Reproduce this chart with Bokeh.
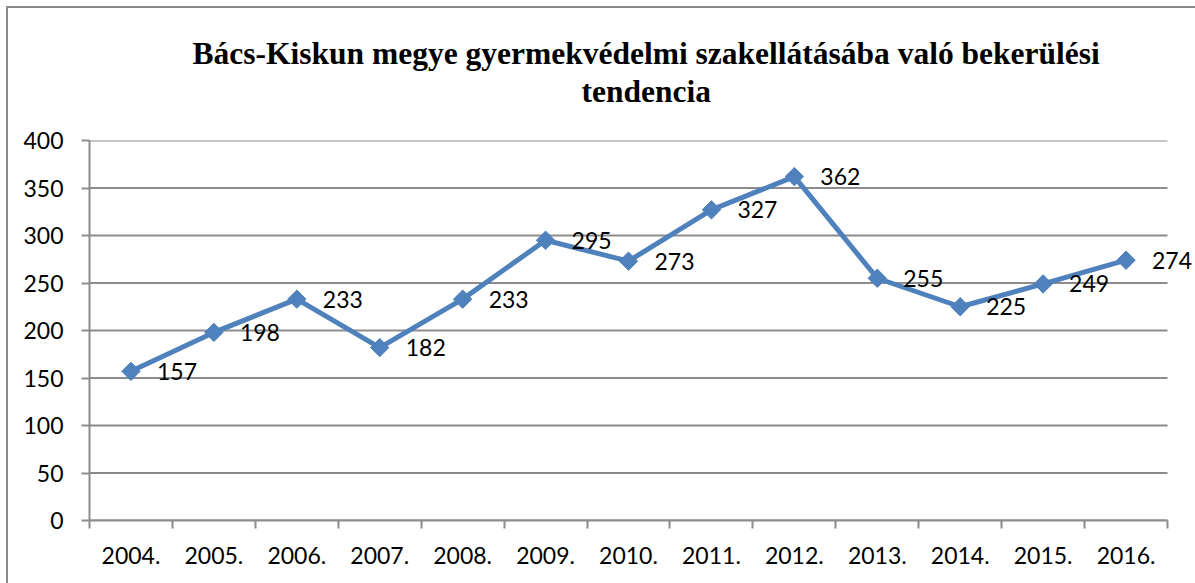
import math
from bokeh.plotting import figure
from bokeh.models import Range1d, FixedTicker, Title, ColumnDataSource, LabelSet
from bokeh.core.properties import value
from bokeh.embed import file_html
from bokeh.resources import INLINE

years = ["2004.", "2005.", "2006.", "2007.", "2008.", "2009.", "2010.",
         "2011.", "2012.", "2013.", "2014.", "2015.", "2016."]
counts = [157, 198, 233, 182, 233, 295, 273, 327, 362, 255, 225, 249, 274]
y_ticks = [0, 50, 100, 150, 200, 250, 300, 350, 400]
title_line1 = "Bács-Kiskun megye gyermekvédelmi szakellátásába való bekerülési"
title_line2 = "tendencia"

n = len(years)
xs = [i + 0.5 for i in range(n)]
labels = [str(v) for v in counts]
src = ColumnDataSource(dict(x=xs, y=counts, lab=labels))

LINE = "#4F81BD"
GRID = "#8c8c8c"
FONT = "Lato"

W, H = 1195, 583
LEFT, PLOT_RIGHT = 89, 1167
# frame extends to the right edge so that the last data label is not clipped
x_end = n * (W - LEFT) / (PLOT_RIGHT - LEFT)

p = figure(width=W, height=H, output_backend="svg", toolbar_location=None,
           x_range=Range1d(0, x_end), y_range=Range1d(0, 400),
           min_border_left=LEFT, min_border_right=0, min_border_top=140,
           min_border_bottom=63)
p.outline_line_color = None
p.background_fill_color = "white"
p.border_fill_color = None
p.styles = {
    "background": "linear-gradient(#8c8c8c, #8c8c8c) 6px 6px / 2px 100% no-repeat, "
                  "linear-gradient(#8c8c8c, #8c8c8c) 6px 6px / 100% 2px no-repeat, white"
}

# titles
t2 = Title(text=title_line2, align="left", text_font="Liberation Serif",
           text_font_size="31.5px", text_font_style="bold", text_color="black",
           offset=492, standoff=64)
t1 = Title(text=title_line1, align="left", text_font="Liberation Serif",
           text_font_size="31.5px", text_font_style="bold", text_color="black",
           offset=103, standoff=-62)
p.add_layout(t2, "above")
p.add_layout(t1, "above")

# axes
xa = p.xaxis[0]
xa.bounds = (0, n)
xa.ticker = FixedTicker(ticks=xs, minor_ticks=list(range(n + 1)))
xa.major_label_overrides = {x: y for x, y in zip(xs, years)}
xa.major_tick_out = 0
xa.major_tick_in = 0
xa.minor_tick_out = 8
xa.minor_tick_in = 0
xa.minor_tick_line_color = GRID
xa.minor_tick_line_width = 2
xa.axis_line_color = GRID
xa.axis_line_width = 2
xa.major_label_text_font = FONT
xa.major_label_text_font_size = "23px"
xa.major_label_text_color = "black"
xa.major_label_standoff = 18

ya = p.yaxis[0]
ya.ticker = FixedTicker(ticks=y_ticks)
ya.major_tick_out = 8
ya.major_tick_in = 0
ya.minor_tick_out = 0
ya.minor_tick_in = 0
ya.major_tick_line_color = GRID
ya.major_tick_line_width = 2
ya.axis_line_color = GRID
ya.axis_line_width = 2
ya.major_label_text_font = FONT
ya.major_label_text_font_size = "23px"
ya.major_label_text_color = "black"
ya.major_label_standoff = 18

# horizontal gridlines spanning the category area only
p.xgrid.grid_line_color = None
p.ygrid.grid_line_color = None
p.segment(x0=[0] * len(y_ticks), x1=[n] * len(y_ticks), y0=y_ticks, y1=y_ticks,
          line_color=GRID, line_width=2)

p.line("x", "y", source=src, line_color=LINE, line_width=5)
p.scatter("x", "y", source=src, marker="square", angle=math.pi / 4, size=13,
          fill_color=LINE, line_color=LINE)
p.add_layout(LabelSet(x="x", y="y", text="lab", source=src, x_offset=26,
                      text_align="left", text_baseline="middle",
                      text_font=value(FONT), text_font_size=value("23px"),
                      text_color="black"))

open("out.html", "w").write(file_html(p, INLINE))
